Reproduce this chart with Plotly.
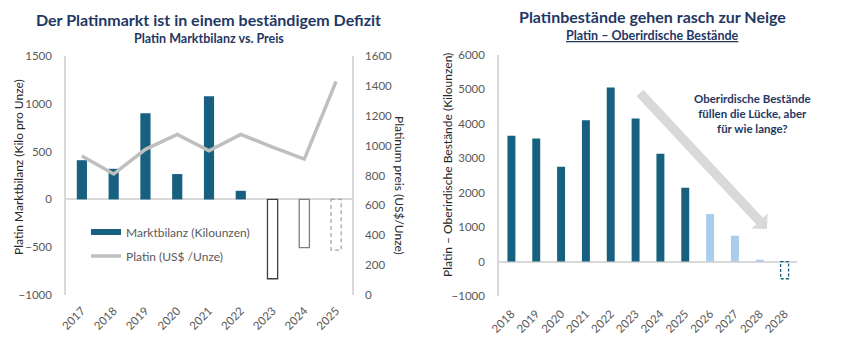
import math
import plotly.graph_objects as go

W, H = 841, 358
OFF = 8                      # browser default body margin
FW, FH = W - 2 * OFF, H - 2 * OFF

# ---------------- data ----------------
years_left = ["2017", "2018", "2019", "2020", "2021", "2022", "2023", "2024", "2025"]
market_balance = [410, 320, 900, 265, 1080, 90, -830, -505, -530]          # koz
balance_kind = ["actual", "actual", "actual", "actual", "actual", "actual",
                "deficit", "deficit", "forecast"]
platinum_price = [930, 810, 975, 1075, 965, 1075, 990, 910, 1430]          # US$/oz

years_right = ["2018", "2019", "2020", "2021", "2022", "2023", "2024", "2025",
               "2026", "2027", "2028", "2028"]
above_ground = [3650, 3570, 2750, 4100, 5050, 4150, 3130, 2140, 1380, 750, 40, -500]
stock_kind = ["actual"] * 8 + ["projected"] * 3 + ["shortfall"]

# ---------------- styles ----------------
NAVY = "#1f3864"
BLUE = "#17607f"
LIGHT = "#a9cdeb"
GREY_LINE = "#bfbfbf"
TICK = "#595959"
AXIS = "#d9d9d9"
FONT = "Lato, Liberation Sans, Arial, sans-serif"

BW_L = 0.32
BW_R = 0.32


def px(xp):
    return (xp - OFF) / FW


def py(yp):
    return 1 - (yp - OFF) / FH


fig = go.Figure()

# legend proxy for the bar series (wide flat swatch like the original)
fig.add_trace(go.Scatter(x=[None], y=[None], mode="lines", name="Marktbilanz (Kilounzen)",
                         line=dict(color=BLUE, width=6), xaxis="x", yaxis="y",
                         legend="legend"))

# left bars
fill_l, line_c, line_w = [], [], []
for k in balance_kind:
    if k == "actual":
        fill_l.append(BLUE); line_c.append(BLUE); line_w.append(0)
    elif k == "deficit":
        fill_l.append("white"); line_c.append("#404040"); line_w.append(1.3)
    else:
        fill_l.append("rgba(0,0,0,0)"); line_c.append("rgba(0,0,0,0)"); line_w.append(0)
line_c[7] = "#7f7f7f"

xl = list(range(len(years_left)))
fig.add_trace(go.Bar(x=xl, y=market_balance, width=BW_L, showlegend=False,
                     name="Marktbilanz (Kilounzen)",
                     marker=dict(color=fill_l, line=dict(color=line_c, width=line_w)),
                     xaxis="x", yaxis="y"))

fig.add_trace(go.Scatter(x=xl, y=platinum_price, mode="lines", name="Platin (US$ /Unze)",
                         line=dict(color=GREY_LINE, width=3.5), xaxis="x", yaxis="y2",
                         legend="legend2"))

# right bars
xr = list(range(len(years_right)))
fill_r = []
for k in stock_kind:
    if k == "actual":
        fill_r.append(BLUE)
    elif k == "projected":
        fill_r.append(LIGHT)
    else:
        fill_r.append("rgba(0,0,0,0)")
fig.add_trace(go.Bar(x=xr, y=above_ground, width=BW_R, showlegend=False,
                     marker=dict(color=fill_r, line=dict(width=0)),
                     xaxis="x2", yaxis="y3"))

shapes = []
# dashed outlines for forecast bars (computed from the data)
for i, (v, k) in enumerate(zip(market_balance, balance_kind)):
    if k == "forecast":
        shapes.append(dict(type="rect", xref="x", yref="y", x0=i - BW_L / 2, x1=i + BW_L / 2,
                           y0=0, y1=v, line=dict(color="#a6a6a6", width=1.3, dash="4px,3px"),
                           fillcolor="rgba(0,0,0,0)"))
for i, (v, k) in enumerate(zip(above_ground, stock_kind)):
    if k == "shortfall":
        shapes.append(dict(type="rect", xref="x2", yref="y3", x0=i - BW_R / 2, x1=i + BW_R / 2,
                           y0=0, y1=v, line=dict(color=BLUE, width=1.3, dash="3px,2px"),
                           fillcolor="rgba(0,0,0,0)"))

# big grey arrow (decoration)
S = (640.0, 93.0)
T = (767.0, 229.0)
dx, dy = T[0] - S[0], T[1] - S[1]
L = math.hypot(dx, dy)
ux, uy = dx / L, dy / L
nx, ny = -uy, ux
hl, hw, sw = 11.0, 11.0, 4.7
B = (T[0] - ux * hl, T[1] - uy * hl)
pts = [(S[0] + nx * sw, S[1] + ny * sw), (B[0] + nx * sw, B[1] + ny * sw),
       (B[0] + nx * hw, B[1] + ny * hw), T,
       (B[0] - nx * hw, B[1] - ny * hw), (B[0] - nx * sw, B[1] - ny * sw),
       (S[0] - nx * sw, S[1] - ny * sw)]
path = "M " + " L ".join(f"{px(a):.5f},{py(b):.5f}" for a, b in pts) + " Z"
shapes.append(dict(type="path", xref="paper", yref="paper", path=path,
                   fillcolor="#d9d9d9", line=dict(width=0), layer="below"))

tickfont = dict(family=FONT, size=11.5, color=TICK)
legfont = dict(family=FONT, size=12, color=TICK)

fig.update_layout(
    width=FW, height=FH,
    margin=dict(l=0, r=0, t=0, b=0, autoexpand=False),
    paper_bgcolor="white", plot_bgcolor="white",
    font=dict(family=FONT, color=TICK),
    barmode="overlay",
    showlegend=True,
    legend=dict(x=px(86), y=py(232), xanchor="left", yanchor="middle",
                bgcolor="rgba(0,0,0,0)", font=legfont, itemwidth=30),
    legend2=dict(x=px(86), y=py(256), xanchor="left", yanchor="middle",
                 bgcolor="rgba(0,0,0,0)", font=legfont, itemwidth=30),
    xaxis=dict(domain=[px(66), px(352)], range=[-0.5, len(years_left) - 0.5],
               tickmode="array", tickvals=xl, ticktext=years_left, tickangle=-45,
               showgrid=False, zeroline=False, showline=False, ticks="",
               tickfont=tickfont, ticklabelstandoff=6, anchor="y", automargin=False),
    yaxis=dict(domain=[py(295), py(56)], range=[-1000, 1500], dtick=500,
               showgrid=False, zeroline=True, zerolinecolor=AXIS, zerolinewidth=1.5,
               showline=True, linecolor=AXIS, linewidth=1.5, ticks="",
               tickfont=tickfont, ticklabelstandoff=10, anchor="x", automargin=False),
    yaxis2=dict(overlaying="y", side="right", anchor="x", range=[0, 1600], dtick=200,
                showgrid=False, zeroline=False, showline=True, linecolor=AXIS, linewidth=1.5,
                ticks="", tickfont=tickfont, ticklabelstandoff=9, automargin=False),
    xaxis2=dict(domain=[px(499), px(797)], range=[-0.5, len(years_right) - 0.5],
                tickmode="array", tickvals=xr, ticktext=years_right, tickangle=-45,
                showgrid=False, zeroline=False, showline=False, ticks="",
                tickfont=tickfont, ticklabelstandoff=8, anchor="y3", automargin=False),
    yaxis3=dict(domain=[py(296), py(54.7)], range=[-1000, 6000], dtick=1000,
                showgrid=False, zeroline=True, zerolinecolor=AXIS, zerolinewidth=1.5,
                showline=True, linecolor=AXIS, linewidth=1.5, ticks="",
                tickfont=tickfont, ticklabelstandoff=10, anchor="x2", automargin=False),
    shapes=shapes,
)

ann = []


def text(x, y, t, size, color=NAVY, angle=0, bold=False):
    ann.append(dict(x=px(x), y=py(y), xref="paper", yref="paper", showarrow=False,
                    text=(f"<b>{t}</b>" if bold else t), textangle=angle,
                    xanchor="center", yanchor="middle",
                    font=dict(family=FONT, size=size, color=color)))


text(208, 19, "Der Platinmarkt ist in einem beständigem Defizit", 16, bold=True)
text(209, 38, "Platin Marktbilanz vs. Preis", 12.5, bold=True)
text(652, 17, "Platinbestände gehen rasch zur Neige", 16, bold=True)
text(652, 35, "<u>Platin – Oberirdische Bestände</u>", 12.5, bold=True)
text(18, 167, "Platin Marktbilanz (Kilo pro Unze)", 12, color="#262626", angle=-90)
text(400, 185, "Platinum preis (US$/Unze)", 12, color="#262626", angle=90)
text(448, 165, "Platin – Oberirdische Bestände (Kilounzen)", 12, color="#262626", angle=-90)
ann.append(dict(x=px(752), y=py(114), xref="paper", yref="paper", showarrow=False,
                text="<b>Oberirdische Bestände<br>füllen die Lücke, aber<br>für wie lange?</b>",
                align="center", xanchor="center", yanchor="middle",
                font=dict(family=FONT, size=11.5, color=NAVY)))
fig.update_layout(annotations=ann)

fig.write_html("out.html")
